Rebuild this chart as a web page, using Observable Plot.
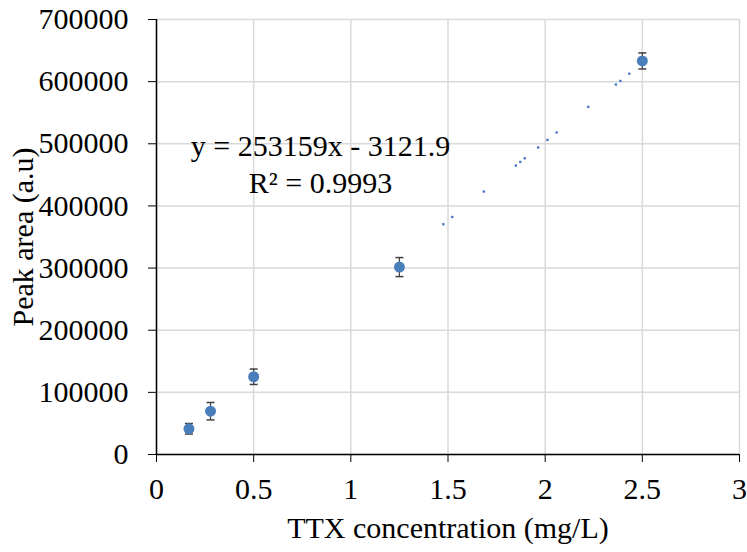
<!DOCTYPE html>
<html><head><meta charset="utf-8">
<script src="https://cdn.jsdelivr.net/npm/d3@7"></script>
<script src="https://cdn.jsdelivr.net/npm/@observablehq/plot@0.6"></script>
<style>body{margin:0;background:#fff} svg{display:block} svg text{font-family:"Liberation Serif","Times New Roman",serif !important; font-variant:normal !important;}</style>
</head><body><div id="chart"></div>
<script>
// Data
const concentrations = [0.167, 0.278, 0.5, 1.25, 2.5];
const peakAreas = [41400, 69700, 125100, 301600, 633300];
const errors = [8500, 14000, 12400, 15300, 12900];
// Linear trendline (from the displayed equation), rendered as sparse dots like the reference
const slope = 253159, intercept = -3121.9;
const trendDotX = [1.476, 1.522, 1.684, 1.849, 1.872, 1.895, 1.964, 2.012, 2.059, 2.222, 2.364, 2.387, 2.433];
const xTicks = [0, 0.5, 1, 1.5, 2, 2.5, 3];
const yTicks = [0, 100000, 200000, 300000, 400000, 500000, 600000, 700000];
const equationLines = ["y = 253159x - 3121.9", "R² = 0.9993"];
const equationX = [0.844, 0.844];
const equationY = [496000, 436000];

const points = concentrations.map((x, i) => ({x, y: peakAreas[i], e: errors[i]}));
const trend = trendDotX.map(x => ({x, y: slope * x + intercept}));
const labels = equationLines.map((t, i) => ({text: t, x: equationX[i], y: equationY[i]}));

const cap = {draw(ctx, size) { const w = Math.sqrt(size / Math.PI); ctx.moveTo(-w, 0); ctx.lineTo(w, 0); }};
const font = "Liberation Serif";
const fs = 30;

const chart = Plot.plot({
  width: 747, height: 552,
  marginLeft: 156, marginRight: 8, marginTop: 19, marginBottom: 98,
  style: {fontFamily: font, fontSize: fs + "px", color: "#000", background: "#fff"},
  x: {domain: [0, 3]},
  y: {domain: [0, 700000]},
  marks: [
    Plot.gridX(xTicks, {stroke: "#d9d9d9", strokeOpacity: 1, strokeWidth: 1.5}),
    Plot.gridY(yTicks, {stroke: "#d9d9d9", strokeOpacity: 1, strokeWidth: 1.5}),
    Plot.ruleX(points, {x: "x", y1: d => d.y - d.e, y2: d => d.y + d.e, stroke: "#404040", strokeWidth: 1.2}),
    Plot.dot(points, {x: "x", y: d => d.y + d.e, symbol: cap, r: 4, stroke: "#404040", strokeWidth: 1.5}),
    Plot.dot(points, {x: "x", y: d => d.y - d.e, symbol: cap, r: 4, stroke: "#404040", strokeWidth: 1.5}),
    Plot.dot(points, {x: "x", y: "y", r: 5.5, fill: "#4a7ebb", stroke: null}),
    Plot.dot(trend, {x: "x", y: "y", symbol: "square", r: 1.3, fill: "#4472c4", stroke: null}),
    Plot.ruleX([0], {stroke: "#000", strokeWidth: 1.5}),
    Plot.ruleY([0], {stroke: "#000", strokeWidth: 1.5}),
    Plot.axisX({ticks: xTicks, tickSize: 8, tickPadding: 15, tickFormat: d => String(d), fontSize: fs, fontFamily: font, fontVariant: "normal",
      label: "TTX concentration (mg/L)", labelAnchor: "center", labelArrow: "none", labelOffset: 83}),
    Plot.axisY({ticks: yTicks, tickSize: 8, tickPadding: 20, tickFormat: d => String(d), fontSize: fs, fontFamily: font, fontVariant: "normal",
      label: "Peak area (a.u)", labelAnchor: "center", labelArrow: "none", labelOffset: 145}),
    Plot.text(labels, {x: "x", y: "y", text: "text", fontSize: fs, fontFamily: font, textAnchor: "middle", lineAnchor: "middle", fill: "#000"})
  ]
});
document.getElementById("chart").append(chart);
</script>
</body></html>
